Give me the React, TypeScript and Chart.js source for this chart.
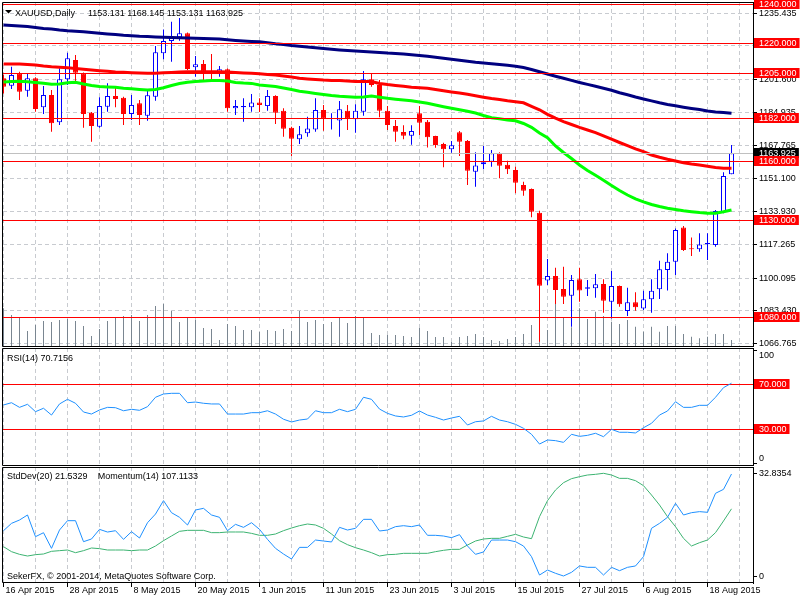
import React, { useEffect, useRef } from 'react';
import { Chart, registerables } from 'chart.js';

Chart.register(...registerables);

// ---------------- data ----------------
const symbolTitle = 'XAUUSD,Daily';
const lastBarQuote = '1153.131 1168.145 1153.131 1163.925';
const rsiTitle = 'RSI(14) 70.7156';
const stdDevTitle = 'StdDev(20) 21.5329';
const momentumTitle = 'Momentum(14) 107.1133';
const copyrightText = 'SekerFX, \u00a9 2001-2014, MetaQuotes Software Corp.';

const xTickLabels = ['16 Apr 2015', '28 Apr 2015', '8 May 2015', '20 May 2015', '1 Jun 2015', '11 Jun 2015',
  '23 Jun 2015', '3 Jul 2015', '15 Jul 2015', '27 Jul 2015', '6 Aug 2015', '18 Aug 2015'];
const xTickBars = [0, 8, 16, 24, 32, 40, 48, 56, 64, 72, 80, 88];

const open = [1202.2, 1198.4, 1204.8, 1195.9, 1202.2, 1187.4, 1193.7, 1179.7, 1201.7, 1211.6,
  1204.8, 1184.6, 1177.5, 1187.7, 1193.2, 1192.3, 1184.0, 1189.4, 1183.1, 1192.8,
  1215.0, 1221.3, 1223.2, 1225.2, 1207.8, 1209.5, 1206.0, 1205.3, 1206.8, 1186.9,
  1187.4, 1187.4, 1189.9, 1188.0, 1193.2, 1185.6, 1177.0, 1171.0, 1174.1, 1176.1,
  1186.0, 1181.4, 1180.7, 1185.6, 1181.3, 1185.1, 1201.7, 1198.8, 1185.6, 1177.8,
  1174.8, 1172.9, 1184.3, 1180.0, 1172.7, 1168.6, 1165.9, 1174.6, 1170.2, 1154.5,
  1158.3, 1159.6, 1163.9, 1158.0, 1155.3, 1147.7, 1145.6, 1133.5, 1098.8, 1101.2,
  1094.5, 1091.1, 1099.5, 1094.6, 1094.9, 1097.1, 1088.0, 1096.0, 1083.3, 1087.7,
  1084.6, 1089.3, 1094.4, 1104.2, 1108.5, 1126.0, 1115.3, 1114.8, 1117.4, 1117.0,
  1133.7, 1153.131];
const high = [1204.0, 1208.1, 1205.5, 1204.8, 1202.8, 1198.3, 1196.2, 1207.3, 1215.3, 1214.1,
  1205.2, 1185.0, 1192.5, 1199.7, 1197.9, 1192.8, 1193.7, 1191.1, 1195.7, 1218.7,
  1227.2, 1231.1, 1233.0, 1225.6, 1213.6, 1211.6, 1214.6, 1208.5, 1207.2, 1191.1,
  1192.0, 1194.2, 1192.0, 1196.2, 1193.5, 1186.9, 1177.4, 1177.8, 1182.6, 1192.0,
  1188.6, 1184.3, 1190.6, 1188.6, 1188.9, 1205.9, 1204.8, 1201.3, 1188.0, 1180.9,
  1178.2, 1178.2, 1188.0, 1180.9, 1172.9, 1169.3, 1170.2, 1175.3, 1170.7, 1164.4,
  1167.6, 1165.6, 1164.4, 1160.1, 1157.0, 1149.4, 1145.9, 1134.5, 1109.8, 1105.4,
  1105.9, 1101.7, 1105.4, 1099.1, 1102.2, 1099.5, 1103.7, 1096.3, 1095.2, 1092.8,
  1093.6, 1099.5, 1108.9, 1112.8, 1125.5, 1126.7, 1120.9, 1123.0, 1123.0, 1134.9,
  1154.2, 1168.145];
const low = [1194.5, 1196.7, 1191.1, 1192.8, 1185.1, 1184.0, 1174.9, 1178.4, 1198.8, 1200.5,
  1177.0, 1169.8, 1177.0, 1185.1, 1187.4, 1178.3, 1180.9, 1178.3, 1180.5, 1190.8,
  1211.9, 1210.7, 1221.4, 1206.4, 1203.0, 1201.0, 1201.0, 1203.0, 1185.1, 1183.5,
  1180.0, 1185.1, 1185.0, 1185.6, 1178.8, 1172.4, 1162.5, 1168.6, 1172.4, 1174.9,
  1175.4, 1176.1, 1172.4, 1175.8, 1174.4, 1183.1, 1197.9, 1182.3, 1175.8, 1169.8,
  1171.0, 1168.3, 1173.2, 1166.9, 1166.7, 1156.7, 1164.2, 1162.5, 1147.7, 1146.8,
  1155.7, 1157.0, 1151.1, 1153.3, 1143.4, 1142.2, 1131.2, 1067.5, 1096.6, 1086.9,
  1086.9, 1075.2, 1088.0, 1091.0, 1090.1, 1082.4, 1079.5, 1085.5, 1080.7, 1083.4,
  1083.8, 1082.4, 1089.4, 1093.7, 1101.7, 1114.0, 1111.4, 1113.6, 1109.3, 1116.1,
  1133.2, 1153.131];
const close = [1197.9, 1203.9, 1195.4, 1202.2, 1186.5, 1193.7, 1179.2, 1201.7, 1212.4, 1205.1,
  1184.0, 1177.8, 1188.0, 1193.2, 1191.6, 1184.0, 1188.6, 1183.5, 1193.5, 1215.5,
  1221.3, 1223.5, 1225.2, 1207.0, 1209.4, 1205.6, 1205.2, 1206.8, 1186.9, 1188.0,
  1188.0, 1189.9, 1188.6, 1193.2, 1184.6, 1176.4, 1171.3, 1173.6, 1176.6, 1186.0,
  1181.6, 1181.8, 1186.4, 1181.6, 1185.6, 1201.7, 1198.8, 1185.6, 1178.3, 1174.9,
  1172.9, 1175.3, 1179.5, 1172.1, 1168.1, 1165.9, 1168.0, 1169.8, 1154.9, 1157.7,
  1159.3, 1163.9, 1157.5, 1155.7, 1148.8, 1144.8, 1134.0, 1096.2, 1101.2, 1094.0,
  1090.6, 1099.1, 1093.7, 1095.4, 1096.9, 1088.5, 1096.0, 1086.7, 1087.7, 1085.2,
  1089.3, 1093.6, 1104.6, 1108.5, 1124.7, 1114.4, 1114.8, 1117.3, 1118.0, 1134.4,
  1152.3, 1163.925];
const tickVolume = [37700, 31000, 28700, 15000, 21000, 25000, 24000, 26000, 27000, 25000,
  20000, 10000, 17000, 25000, 28700, 30000, 31000, 25000, 31000, 40000,
  42000, 35000, 24000, 28700, 26000, 18000, 17000, 6000, 22000, 20000,
  16000, 16000, 14000, 16000, 15000, 17000, 15000, 35000, 24000, 26000,
  22000, 24000, 28000, 23000, 30000, 28700, 13000, 11000, 11000, 11000,
  10000, 9000, 18000, 15000, 9000, 9000, 4000, 9000, 10000, 12000,
  9000, 6000, 5000, 7000, 9000, 12000, 21000, 50000, 16000, 42700,
  28300, 18700, 37700, 27000, 34300, 30000, 24300, 22000, 26000, 19300,
  14300, 19300, 14300, 20000, 20000, 12000, 9300, 7700, 9300, 12000,
  12000, 6000];
const maSlow = [1229.46, 1229.20, 1228.94, 1228.69, 1228.18, 1227.67, 1227.41, 1226.90, 1226.54, 1226.29,
  1226.03, 1225.62, 1225.21, 1224.86, 1224.60, 1224.19, 1223.94, 1223.68, 1223.53, 1223.37,
  1223.22, 1223.12, 1222.96, 1222.86, 1222.71, 1222.61, 1222.45, 1222.25, 1221.89, 1221.58,
  1221.28, 1221.07, 1220.87, 1220.36, 1219.85, 1219.44, 1218.97, 1218.62, 1218.21, 1217.80,
  1217.39, 1217.03, 1216.68, 1216.42, 1216.16, 1215.91, 1215.65, 1215.45, 1215.14, 1214.94,
  1214.58, 1214.22, 1213.87, 1213.46, 1212.95, 1212.43, 1211.92, 1211.46, 1210.90, 1210.39,
  1210.03, 1209.63, 1209.27, 1208.86, 1208.40, 1207.73, 1206.71, 1205.54, 1204.41, 1203.29,
  1202.21, 1201.14, 1200.07, 1199.09, 1198.17, 1197.15, 1196.13, 1194.85, 1193.78, 1192.65,
  1191.63, 1190.66, 1189.69, 1188.82, 1188.16, 1187.44, 1186.78, 1186.21, 1185.55, 1184.99,
  1184.68, 1184.32];
const maMid = [1209.52, 1209.52, 1209.52, 1209.27, 1209.01, 1208.50, 1208.14, 1207.89, 1207.63, 1207.22,
  1206.81, 1206.45, 1206.10, 1205.79, 1205.48, 1205.28, 1205.08, 1204.92, 1204.77, 1204.82,
  1205.02, 1205.23, 1205.48, 1205.59, 1205.59, 1205.59, 1205.59, 1205.54, 1205.38, 1205.18,
  1204.97, 1204.77, 1204.56, 1204.21, 1203.95, 1203.44, 1202.88, 1202.26, 1201.86, 1201.55,
  1201.29, 1201.14, 1201.04, 1200.88, 1200.63, 1200.58, 1200.58, 1199.55, 1198.99, 1198.53,
  1198.12, 1197.61, 1197.36, 1197.10, 1196.54, 1195.87, 1195.26, 1194.65, 1194.03, 1193.32,
  1192.55, 1191.84, 1191.43, 1190.76, 1190.25, 1189.69, 1187.90, 1186.11, 1183.81, 1181.82,
  1180.03, 1178.60, 1177.12, 1175.79, 1174.41, 1172.82, 1171.09, 1169.40, 1167.81, 1166.18,
  1164.70, 1163.01, 1161.83, 1160.81, 1159.94, 1159.07, 1158.41, 1157.90, 1157.23, 1156.62,
  1156.21, 1156.21];
const maFast = [1200.32, 1200.58, 1200.73, 1200.42, 1200.07, 1199.66, 1199.20, 1199.30, 1199.96, 1200.17,
  1199.30, 1198.53, 1197.97, 1197.77, 1197.61, 1197.15, 1196.85, 1196.54, 1196.23, 1196.49,
  1197.36, 1198.53, 1199.55, 1200.22, 1200.63, 1200.83, 1201.04, 1201.14, 1200.83, 1200.12,
  1199.81, 1199.61, 1198.79, 1198.43, 1198.02, 1197.25, 1196.44, 1195.57, 1195.06, 1194.49,
  1193.93, 1193.42, 1193.01, 1192.76, 1192.55, 1192.65, 1193.17, 1192.55, 1191.99, 1191.53,
  1191.12, 1190.71, 1190.10, 1189.43, 1188.57, 1187.70, 1186.88, 1186.11, 1185.35, 1184.48,
  1183.20, 1182.02, 1181.51, 1180.90, 1180.49, 1179.11, 1177.17, 1174.25, 1171.80, 1167.61,
  1164.29, 1161.22, 1157.90, 1155.09, 1152.63, 1150.08, 1147.42, 1144.87, 1142.57, 1140.62,
  1139.09, 1137.71, 1136.69, 1135.77, 1135.15, 1134.54, 1134.03, 1133.57, 1133.26, 1133.26,
  1134.03, 1134.90];
const priceTickLabels = ['1235.435', '1218.770', '1201.600', '1184.935', '1167.765', '1151.100',
  '1133.930', '1117.265', '1100.095', '1083.430', '1066.765'];
const levelPrices = [1240, 1220, 1205, 1182, 1160, 1130, 1080];
const bidPrice = 1163.925;

const rsi = [51.5, 53.5, 49.4, 52.1, 45.6, 48.6, 42.6, 52.4, 56.5, 53.0,
  45.3, 43.5, 47.1, 49.4, 49.1, 46.4, 47.7, 46.8, 50.0, 58.3,
  61.2, 61.8, 61.8, 53.5, 54.1, 53.0, 52.4, 52.4, 43.5, 43.5,
  43.5, 44.7, 44.7, 46.4, 43.5, 38.9, 36.5, 38.2, 39.1, 46.4,
  44.7, 44.7, 47.7, 45.6, 47.7, 58.3, 56.5, 47.9, 44.1, 41.8,
  40.9, 42.4, 46.2, 42.6, 40.6, 38.2, 40.0, 41.5, 33.8, 36.7,
  37.4, 41.5, 38.2, 36.7, 34.4, 30.9, 25.6, 17.0, 20.6, 20.0,
  18.5, 25.6, 23.8, 24.7, 26.5, 23.5, 30.0, 27.4, 27.4, 26.8,
  31.4, 35.3, 42.6, 46.2, 54.4, 49.4, 49.4, 51.2, 51.2, 58.3,
  66.8, 70.7156];
const rsiLevels = [70, 30];
const rsiAxisTicks = [100, 0];

const stdDev = [9.49, 7.90, 7.05, 6.52, 6.95, 7.16, 8.01, 8.22, 8.43, 7.58,
  8.22, 9.07, 8.86, 8.43, 8.43, 8.43, 8.22, 8.43, 8.43, 9.70,
  11.40, 12.89, 14.37, 14.69, 14.69, 14.69, 13.95, 13.95, 14.16, 14.16,
  14.16, 13.73, 13.10, 13.10, 13.52, 14.58, 15.43, 16.17, 16.70, 16.39,
  15.33, 13.52, 11.40, 10.13, 9.17, 8.43, 7.58, 6.52, 6.95, 7.05,
  7.37, 7.37, 7.37, 7.37, 7.90, 8.33, 8.64, 8.64, 10.02, 11.30,
  11.93, 12.14, 12.14, 12.78, 13.42, 12.57, 12.04, 19.04, 24.13, 27.52,
  29.85, 31.13, 31.76, 32.29, 32.51, 32.8354, 32.29, 31.23, 31.23, 30.49,
  28.90, 25.93, 22.75, 19.04, 15.85, 12.14, 9.70, 10.76, 11.61, 13.95,
  17.66, 21.5329];
const momentum = [99.53, 100.51, 100.96, 101.63, 98.73, 99.26, 97.17, 99.62, 100.87, 100.87,
  98.06, 98.42, 99.71, 99.35, 99.53, 98.37, 99.40, 98.55, 100.60, 101.76,
  103.55, 101.94, 101.32, 100.29, 102.30, 102.52, 101.63, 101.32, 99.53, 100.38,
  99.98, 100.60, 99.71, 98.37, 97.17, 96.41, 95.74, 97.30, 97.30, 98.28,
  98.15, 98.02, 99.98, 99.62, 99.85, 101.05, 101.05, 99.49, 99.62, 100.07,
  100.20, 100.07, 100.29, 98.91, 98.91, 98.82, 98.60, 99.00, 97.48, 96.37,
  96.68, 98.28, 98.28, 98.28, 98.06, 97.48, 96.06, 93.60, 94.27, 93.83,
  93.47, 93.96, 94.81, 94.63, 94.63, 93.60, 94.63, 94.18, 94.63, 94.81,
  96.06, 99.85, 100.51, 101.32, 103.19, 101.63, 101.94, 102.08, 101.99, 104.53,
  105.06, 107.1133];
const stdDevAxisTicks = [32.8354, 0];

// ---------------- layout / style ----------------
const FONT = "'Liberation Sans', Arial, sans-serif";
const FONT9 = { family: FONT, size: 9, lineHeight: 1 };
const AXIS_W = 47;
const X_MIN = -0.0625;
const X_MAX = 93.6875;
const PRICE_MIN = 1064.874;
const PRICE_MAX = 1241.211;
const GRID_COLOR = '#c8cbd0';
const GRID_DASH = [4, 3];
const BULL = '#0000ff';
const BEAR = '#ff0000';
const gridBars = Array.from({ length: 24 }, (_, k) => k * 4);
const barIdx = close.map((_, i) => i);
const priceTicks = priceTickLabels.map(Number);

function makeXScale(withLabels: boolean): any {
  return {
    type: 'linear',
    min: X_MIN,
    max: X_MAX,
    offset: false,
    grid: {
      offset: false,
      color: GRID_COLOR,
      lineWidth: 1,
      drawTicks: withLabels,
      tickLength: 4,
      tickWidth: 1,
      tickBorderDash: [],
      tickColor: (c: any) => (c.tick && xTickBars.includes(c.tick.value) ? '#000000' : 'rgba(0,0,0,0)'),
    },
    border: { display: false, dash: GRID_DASH },
    ticks: {
      display: withLabels,
      autoSkip: false,
      maxRotation: 0,
      minRotation: 0,
      align: 'start',
      padding: -1,
      labelOffset: 2,
      color: '#000000',
      font: FONT9,
      callback: (v: number) => {
        const k = xTickBars.indexOf(v);
        return k >= 0 ? xTickLabels[k] : '';
      },
    },
    afterBuildTicks: (s: any) => {
      s.ticks = gridBars.map((v) => ({ value: v }));
    },
    afterFit: (s: any) => {
      s.height = withLabels ? 17 : 0;
      s.paddingLeft = 0;
      s.paddingRight = 0;
    },
  };
}

function rightAxis(min: number, max: number, values: number[], showLabels: boolean, hGrid: boolean, fmt: (v: number) => string): any {
  return {
    position: 'right',
    min,
    max,
    grid: {
      drawOnChartArea: hGrid,
      color: GRID_COLOR,
      lineWidth: 1,
      drawTicks: true,
      tickLength: 4,
      tickWidth: 1,
      tickColor: '#000000',
      tickBorderDash: [],
    },
    border: { display: true, color: '#000000', width: 1, dash: GRID_DASH },
    ticks: { display: showLabels, color: '#000000', padding: 2, font: FONT9, callback: (v: number) => fmt(v) },
    afterBuildTicks: (s: any) => {
      s.ticks = values.map((v) => ({ value: v }));
    },
    afterFit: (s: any) => {
      s.width = AXIS_W;
      s.paddingTop = 0;
      s.paddingBottom = 0;
    },
  };
}

function drawFrame(ctx: CanvasRenderingContext2D, a: any) {
  ctx.save();
  ctx.strokeStyle = '#000000';
  ctx.lineWidth = 1;
  ctx.setLineDash([]);
  const t = Math.round(a.top) + 0.5;
  const b = Math.round(a.bottom) - 0.5;
  const l = Math.round(a.left) - 0.5;
  const r = Math.round(a.right) + 1;
  ctx.beginPath();
  ctx.moveTo(r, t);
  ctx.lineTo(l, t);
  ctx.lineTo(l, b);
  ctx.lineTo(r, b);
  ctx.stroke();
  ctx.restore();
}

function drawTag(ctx: CanvasRenderingContext2D, x: number, py: number, text: string, bg: string) {
  ctx.save();
  ctx.font = `9px ${FONT}`;
  const w = ctx.measureText(text).width + 8;
  const cy = Math.round(py);
  ctx.fillStyle = bg;
  ctx.fillRect(x, cy - 5, w, 10);
  ctx.fillStyle = '#ffffff';
  ctx.textBaseline = 'middle';
  ctx.textAlign = 'left';
  ctx.fillText(text, x + 5, cy + 0.5);
  ctx.restore();
}

function hLine(ctx: CanvasRenderingContext2D, a: any, py: number, color: string) {
  const y = Math.round(py) + 0.5;
  ctx.save();
  ctx.strokeStyle = color;
  ctx.lineWidth = 1;
  ctx.setLineDash([]);
  ctx.beginPath();
  ctx.moveTo(a.left, y);
  ctx.lineTo(a.right, y);
  ctx.stroke();
  ctx.restore();
}

function drawText(ctx: CanvasRenderingContext2D, text: string, x: number, y: number, color = '#000000') {
  ctx.save();
  ctx.font = `9px ${FONT}`;
  ctx.fillStyle = color;
  ctx.textBaseline = 'alphabetic';
  ctx.textAlign = 'left';
  ctx.fillText(text, x, y);
  ctx.restore();
}

const mainOverlay = {
  id: 'mainOverlay',
  afterDatasetsDraw(chart: any) {
    const { ctx, chartArea: a } = chart;
    const y = chart.scales.y;
    hLine(ctx, a, y.getPixelForValue(bidPrice), '#c0c0c0');
    levelPrices.forEach((p) => hLine(ctx, a, y.getPixelForValue(p), '#ff0000'));
  },
  afterDraw(chart: any) {
    const { ctx, chartArea: a } = chart;
    const y = chart.scales.y;
    drawFrame(ctx, a);
    ctx.save();
    ctx.fillStyle = '#000000';
    ctx.beginPath();
    ctx.moveTo(5, 10);
    ctx.lineTo(12, 10);
    ctx.lineTo(8.5, 13.5);
    ctx.closePath();
    ctx.fill();
    ctx.restore();
    drawText(ctx, symbolTitle, 15, 16);
    drawText(ctx, lastBarQuote, 88, 16);
    drawTag(ctx, a.right + 1, y.getPixelForValue(bidPrice), bidPrice.toFixed(3), '#000000');
    levelPrices.forEach((p) => drawTag(ctx, a.right + 1, y.getPixelForValue(p), p.toFixed(3), '#ff0000'));
  },
};

const rsiOverlay = {
  id: 'rsiOverlay',
  beforeDatasetsDraw(chart: any) {
    const { ctx, chartArea: a } = chart;
    const y = chart.scales.y;
    rsiLevels.forEach((v) => hLine(ctx, a, y.getPixelForValue(v), '#ff0000'));
  },
  afterDraw(chart: any) {
    const { ctx, chartArea: a } = chart;
    const y = chart.scales.y;
    drawFrame(ctx, a);
    drawText(ctx, rsiTitle, 7, 14);
    drawText(ctx, String(rsiAxisTicks[0]), a.right + 6, y.getPixelForValue(rsiAxisTicks[0]) + 8.3);
    drawText(ctx, String(rsiAxisTicks[1]), a.right + 6, y.getPixelForValue(rsiAxisTicks[1]) - 2.6);
    rsiLevels.forEach((v) => drawTag(ctx, a.right + 1, y.getPixelForValue(v), v.toFixed(3), '#ff0000'));
  },
};

const subOverlay = {
  id: 'subOverlay',
  afterDraw(chart: any) {
    const { ctx, chartArea: a } = chart;
    drawFrame(ctx, a);
    drawText(ctx, stdDevTitle, 7, 13);
    drawText(ctx, momentumTitle, 97.7, 13);
    drawText(ctx, copyrightText, 7, 112.5);
  },
};

const baseOptions = {
  responsive: false,
  maintainAspectRatio: false,
  animation: false,
  devicePixelRatio: 1,
  events: [],
  plugins: { legend: { display: false }, tooltip: { enabled: false }, title: { display: false } },
};

function mainConfig(): any {
  const bull = barIdx.map((i) => close[i] >= open[i]);
  const line = (label: string, values: number[], color: string) => ({
    type: 'line',
    label,
    data: barIdx.map((i) => ({ x: i, y: values[i] })),
    borderColor: color,
    borderWidth: 3,
    pointRadius: 0,
    tension: 0,
    fill: false,
    yAxisID: 'y',
    order: 0,
  });
  return {
    type: 'bar',
    data: {
      datasets: [
        line('MA slow', maSlow, '#000080'),
        line('MA mid', maMid, '#ff0000'),
        line('MA fast', maFast, '#00ff00'),
        {
          type: 'bar',
          label: 'body',
          data: barIdx.map((i) => ({ x: i, y: [open[i], close[i]] })),
          backgroundColor: barIdx.map((i) => (bull[i] ? '#ffffff' : BEAR)),
          borderColor: barIdx.map((i) => (bull[i] ? BULL : BEAR)),
          borderWidth: 1,
          borderSkipped: false,
          barThickness: 5,
          grouped: false,
          inflateAmount: 0,
          yAxisID: 'y',
          order: 1,
          clip: 0,
        },
        {
          type: 'bar',
          label: 'wick',
          data: barIdx.map((i) => ({ x: i, y: [low[i], high[i]] })),
          backgroundColor: barIdx.map((i) => (bull[i] ? BULL : BEAR)),
          borderWidth: 0,
          barThickness: 1,
          grouped: false,
          inflateAmount: 0,
          yAxisID: 'y',
          order: 2,
          clip: 0,
        },
        {
          type: 'bar',
          label: 'volume',
          data: barIdx.map((i) => ({ x: i, y: tickVolume[i] })),
          backgroundColor: '#7a8691',
          borderWidth: 0,
          barThickness: 1,
          grouped: false,
          inflateAmount: 0,
          yAxisID: 'yVol',
          order: 3,
          clip: 0,
        },
      ],
    },
    options: {
      ...baseOptions,
      layout: { padding: { left: 3, right: 0, top: 2, bottom: 0 } },
      scales: {
        x: makeXScale(false),
        y: rightAxis(PRICE_MIN, PRICE_MAX, priceTicks, true, true, (v) => v.toFixed(3)),
        yVol: { display: false, min: -1000, max: 344000 },
      },
    },
    plugins: [mainOverlay],
  };
}

function rsiConfig(): any {
  return {
    type: 'line',
    data: {
      datasets: [
        {
          label: 'RSI(14)',
          data: barIdx.map((i) => ({ x: i, y: rsi[i] })),
          borderColor: '#1e90ff',
          borderWidth: 1,
          pointRadius: 0,
          tension: 0,
          fill: false,
        },
      ],
    },
    options: {
      ...baseOptions,
      layout: { padding: { left: 3, right: 0, top: 1, bottom: 0 } },
      scales: {
        x: makeXScale(false),
        y: rightAxis(-2.38, 101.81, rsiAxisTicks, false, false, (v) => String(v)),
      },
    },
    plugins: [rsiOverlay],
  };
}

function subConfig(): any {
  return {
    type: 'line',
    data: {
      datasets: [
        {
          label: 'Momentum(14)',
          data: barIdx.map((i) => ({ x: i, y: momentum[i] })),
          borderColor: '#1e90ff',
          borderWidth: 1,
          pointRadius: 0,
          tension: 0,
          fill: false,
          yAxisID: 'yMom',
          order: 0,
        },
        {
          label: 'StdDev(20)',
          data: barIdx.map((i) => ({ x: i, y: stdDev[i] })),
          borderColor: '#3cb371',
          borderWidth: 1,
          pointRadius: 0,
          tension: 0,
          fill: false,
          yAxisID: 'y',
          order: 1,
        },
      ],
    },
    options: {
      ...baseOptions,
      layout: { padding: { left: 3, right: 0, top: 1, bottom: 0 } },
      scales: {
        x: makeXScale(true),
        y: rightAxis(-2.068, 34.84, stdDevAxisTicks, true, false, (v) => String(v)),
        yMom: { display: false, min: 92.533, max: 108.05 },
      },
    },
    plugins: [subOverlay],
  };
}

export default function App() {
  const mainRef = useRef<HTMLCanvasElement>(null);
  const rsiRef = useRef<HTMLCanvasElement>(null);
  const subRef = useRef<HTMLCanvasElement>(null);

  useEffect(() => {
    const charts = [
      new Chart(mainRef.current as HTMLCanvasElement, mainConfig()),
      new Chart(rsiRef.current as HTMLCanvasElement, rsiConfig()),
      new Chart(subRef.current as HTMLCanvasElement, subConfig()),
    ];
    return () => charts.forEach((c) => c.destroy());
  }, []);

  const cs = (top: number, h: number): React.CSSProperties => ({
    position: 'absolute',
    left: 0,
    top,
    width: 800,
    height: h,
    display: 'block',
  });

  return (
    <div style={{ position: 'fixed', left: 0, top: 0, width: 800, height: 600, background: '#ffffff', overflow: 'hidden' }}>
      <canvas ref={mainRef} width={800} height={347} style={cs(0, 347)} />
      <canvas ref={rsiRef} width={800} height={119} style={cs(347, 119)} />
      <canvas ref={subRef} width={800} height={134} style={cs(466, 134)} />
    </div>
  );
}
